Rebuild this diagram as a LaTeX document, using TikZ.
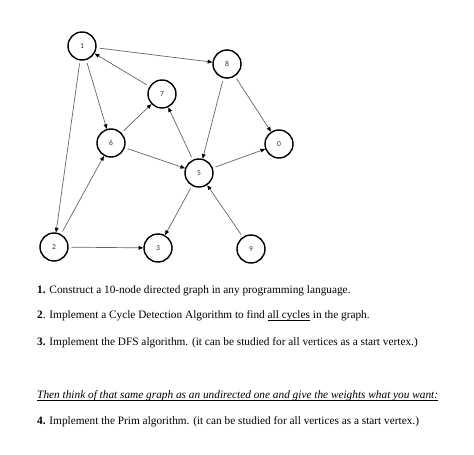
\documentclass[tikz,border=0pt]{standalone}
\usepackage{fontspec}
\setmainfont{Liberation Serif}
\newfontfamily\digitfont{Carlito}
\usetikzlibrary{arrows.meta}
\newcommand\undertext[1]{\setbox0\hbox{#1}\rlap{\rule[-1.4pt]{\wd0}{0.45pt}}\box0\relax}

\begin{document}
\begin{tikzpicture}[
	vertex/.style={draw=black, line width=1.2pt, circle, minimum size=0.84cm, inner sep=0pt, font=\digitfont\fontsize{6.5}{7}\selectfont, text=black!80},
	edge/.style={draw=black!60, line width=0.6pt, shorten <=2.5pt, -{Triangle[black, length=4pt, width=3.2pt]}},
	task/.style={anchor=base west, inner sep=0pt, font=\fontsize{9.65}{11}\selectfont}]
		%%%%% START %%%%%
		\useasboundingbox (0, 0) rectangle (14.22, 13.65);
		
		% vertices
		\node[vertex] (v1) at (2.46, 12.27) {1};
		\node[vertex] (v8) at (6.81, 11.73) {8};
		\node[vertex] (v7) at (4.86, 10.83) {7};
		\node[vertex] (v6) at (3.33, 9.36) {6};
		\node[vertex] (v0) at (8.37, 9.33) {0};
		\node[vertex] (v5) at (5.97, 8.46) {5};
		\node[vertex] (v2) at (1.62, 6.24) {2};
		\node[vertex] (v3) at (4.74, 6.21) {3};
		\node[vertex] (v9) at (7.53, 6.18) {9};
		
		% directed edges
		\draw[edge] (v1) -- (v8);
		\draw[edge] (v1) -- (v6);
		\draw[edge] (v1) -- (v2);
		\draw[edge] (v7) -- (v1);
		\draw[edge] (v6) -- (v7);
		\draw[edge] (v6) -- (v5);
		\draw[edge] (v8) -- (v5);
		\draw[edge] (v8) -- (v0);
		\draw[edge] (v5) -- (v7);
		\draw[edge] (v5) -- (v0);
		\draw[edge] (v5) -- (v3);
		\draw[edge] (v9) -- (v5);
		\draw[edge] (v2) -- (v6);
		\draw[edge] (v2) -- (v3);
		
		% tasks
		\node[task] (t1) at (1.11, 4.83) {\textbf{1.} Construct a 10-node directed graph in any programming language.};
		\node[task] (t2) at (1.11, 4.08) {\textbf{2}. Implement a Cycle Detection Algorithm to find \undertext{all cycles} in the graph.};
		\node[task] (t3) at (1.11, 3.28) {\textbf{3.} Implement the DFS algorithm. (it can be studied for all vertices as a start vertex.)};
		\node[task] (t4) at (1.11, 1.68) {\undertext{\itshape Then think of that same graph as an undirected one and give the weights what you want:}};
		\node[task] (t5) at (1.11, 0.90) {\textbf{4.} Implement the Prim algorithm. (it can be studied for all vertices as a start vertex.)};
		%%%%% END %%%%%
\end{tikzpicture}
\end{document}
